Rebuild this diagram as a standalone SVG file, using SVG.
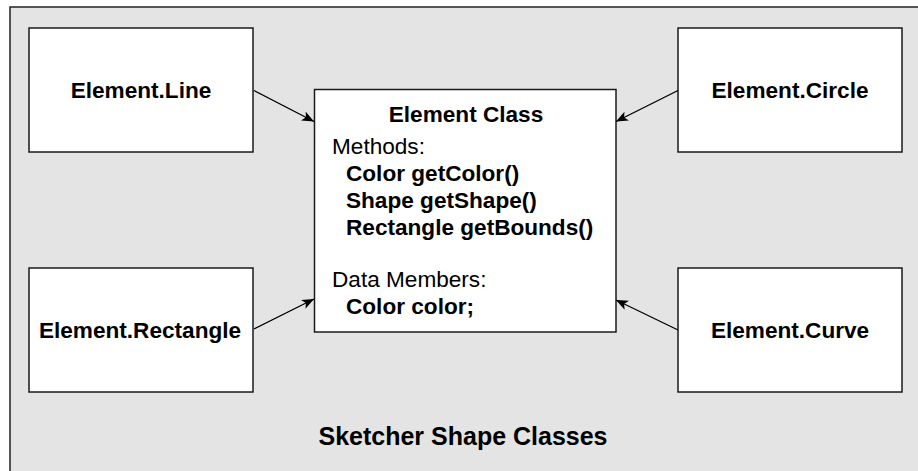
<svg xmlns="http://www.w3.org/2000/svg" width="918" height="471" viewBox="0 0 918 471">
<defs>
<style>
.box{fill:#fff;stroke:#1a1a1a;stroke-width:1.5}
.t{font-family:"Liberation Sans",Arial,sans-serif;font-size:22.6px;fill:#000}
.b{font-weight:bold}
.c{stroke:#000;stroke-width:1.3;fill:none}
</style>
<marker id="ah" viewBox="0 0 12 10" refX="12" refY="5" markerWidth="12" markerHeight="10" markerUnits="userSpaceOnUse" orient="auto">
<path d="M0,0 L12,5 L0,10 L3,5 Z" fill="#000"/>
</marker>
</defs>
<rect x="0" y="0" width="918" height="471" fill="#fff"/>
<rect x="10" y="7" width="920" height="480" fill="#e4e4e4" stroke="#222" stroke-width="1.5"/>
<g id="line"><rect class="box" x="29" y="28" width="224" height="124"/><text class="t b" x="141" y="98" text-anchor="middle">Element.Line</text></g>
<g id="circle"><rect class="box" x="678" y="28" width="224" height="124"/><text class="t b" x="790" y="98" text-anchor="middle">Element.Circle</text></g>
<g id="rectangle"><rect class="box" x="29" y="268" width="224" height="124"/><text class="t b" x="140" y="338" text-anchor="middle">Element.Rectangle</text></g>
<g id="curve"><rect class="box" x="678" y="268" width="224" height="124"/><text class="t b" x="790" y="338" text-anchor="middle">Element.Curve</text></g>
<g id="element"><rect class="box" x="314.5" y="89.5" width="301.5" height="242.5"/>
<text class="t b" x="466" y="122" text-anchor="middle">Element Class</text>
<text class="t" x="332" y="154">Methods:</text>
<text class="t b" x="346" y="181">Color getColor()</text>
<text class="t b" x="346" y="208">Shape getShape()</text>
<text class="t b" x="346" y="235">Rectangle getBounds()</text>
<text class="t" x="332" y="287">Data Members:</text>
<text class="t b" x="346" y="314">Color color;</text>
</g>
<g id="connectors">
<line class="c" x1="254" y1="90.5" x2="314" y2="121.5" marker-end="url(#ah)"/>
<line class="c" x1="678" y1="90.5" x2="616" y2="121.5" marker-end="url(#ah)"/>
<line class="c" x1="254" y1="329" x2="314" y2="299" marker-end="url(#ah)"/>
<line class="c" x1="678" y1="330" x2="616" y2="300" marker-end="url(#ah)"/>
</g>
<text class="t b" x="463" y="445" text-anchor="middle" style="font-size:25px">Sketcher Shape Classes</text>
</svg>
